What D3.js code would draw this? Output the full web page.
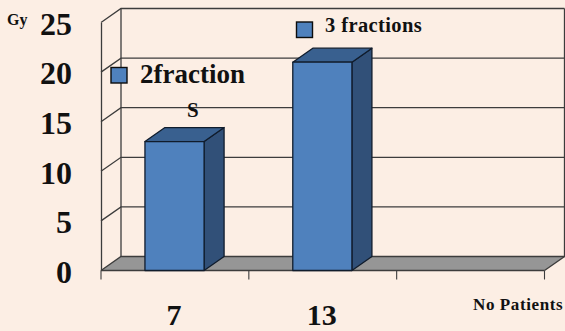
<!DOCTYPE html>
<html>
<head>
<meta charset="utf-8">
<script src="https://cdn.jsdelivr.net/npm/d3@7"></script>
<style>
  html, body { margin: 0; padding: 0; background: #fceee4; }
  svg { display: block; }
  text { font-family: "Liberation Serif", serif; font-weight: bold; fill: #111; }
</style>
</head>
<body>
<svg id="chart" width="565" height="331"></svg>
<script>
// Dose delivered per patient group
const categories = ["7", "13", ""];
const doses = [13, 21];
const doseTicks = [0, 5, 10, 15, 20, 25];
const legendNames = ["2fraction", "3 fractions"];

const width = 565, height = 331;
const depthX = 20, depthY = 14;   // oblique offset of the back plane

const svg = d3.select("#chart");

const y = d3.scaleLinear().domain([0, 25]).range([270.5, 22.5]);
const x = d3.scaleBand().domain(categories).range([101, 544.5]).paddingInner(0).paddingOuter(0);
const barWidth = x.bandwidth() * 0.4;

const frame = "#3c3c3c";
const left = x.range()[0], right = x.range()[1];

// Floor
svg.append("polygon")
  .attr("points", [
    [left, y(0)], [left + depthX, y(0) - depthY],
    [right + depthX, y(0) - depthY], [right, y(0)]
  ].join(" "))
  .attr("fill", "#969696");

// Gridlines on the back plane and side wall
const grid = svg.append("g").attr("fill", "none").attr("stroke", frame).attr("stroke-width", 1.3);
grid.selectAll("path.level")
  .data(doseTicks)
  .join("path")
  .attr("class", "level")
  .attr("d", d => `M${left},${y(d)}L${left + depthX},${y(d) - depthY}L${right + depthX},${y(d) - depthY}`);
grid.append("path").attr("d", `M${left + depthX},${y(25) - depthY}V${y(0) - depthY}`);
grid.append("path").attr("d", `M${right + depthX},${y(25) - depthY}V${y(0) - depthY}L${right},${y(0)}`);

// Value axis: labels only, the wall edge carries the line
const yAxis = svg.append("g")
  .attr("transform", `translate(${left},0)`)
  .call(d3.axisLeft(y).tickValues(doseTicks).tickSize(0).tickPadding(29));
yAxis.select(".domain").attr("stroke", frame).attr("stroke-width", 1.3);
yAxis.selectAll("text")
  .attr("font-size", 32)
  .attr("font-family", "Liberation Serif")
  .attr("font-weight", "bold")
  .attr("fill", "#111")
  .attr("dy", "0.37em");

// Category axis: ticks fall on band edges
const edges = categories.map(c => x(c)).concat(right);
const xAxis = svg.append("g")
  .attr("transform", `translate(0,${y(0)})`);
xAxis.append("line").attr("x1", left).attr("x2", right)
  .attr("stroke", frame).attr("stroke-width", 1.3);
xAxis.selectAll("line.tick")
  .data(edges)
  .join("line")
  .attr("class", "tick")
  .attr("x1", d => d).attr("x2", d => d)
  .attr("y1", 0).attr("y2", 9)
  .attr("stroke", frame).attr("stroke-width", 1.1);
xAxis.selectAll("text")
  .data(categories)
  .join("text")
  .attr("x", d => x(d) + x.bandwidth() / 2 - 1)
  .attr("y", 54.5)
  .attr("text-anchor", "middle")
  .attr("font-size", 30)
  .text(d => d);

// Oblique bars
const bars = svg.append("g")
  .selectAll("g")
  .data(doses)
  .join("g")
  .attr("stroke", "#101c2c")
  .attr("stroke-width", 1.3)
  .attr("stroke-linejoin", "round");
const x0 = (d, i) => x(categories[i]) + (x.bandwidth() - barWidth) / 2 - 0.4;

bars.append("polygon")   // side
  .attr("fill", "#315078")
  .attr("points", (d, i) => {
    const a = x0(d, i) + barWidth;
    return [[a, y(d)], [a + depthX, y(d) - depthY], [a + depthX, y(0) - depthY], [a, y(0)]].join(" ");
  });
bars.append("polygon")   // top
  .attr("fill", "#39608f")
  .attr("points", (d, i) => {
    const a = x0(d, i);
    return [[a, y(d)], [a + depthX, y(d) - depthY], [a + barWidth + depthX, y(d) - depthY], [a + barWidth, y(d)]].join(" ");
  });
bars.append("rect")      // front
  .attr("fill", "#4f81bd")
  .attr("x", x0)
  .attr("y", d => y(d))
  .attr("width", barWidth)
  .attr("height", d => y(0) - y(d));

// Legend keys and names placed over the plot
const legendKeys = [[111, 67.5], [296.5, 22]];
const legendLabels = [
  { x: 140, y: 83, size: 27, spacing: 0 },
  { x: 325, y: 32, size: 20.5, spacing: 0.4 }
];
svg.append("g").selectAll("rect")
  .data(legendKeys)
  .join("rect")
  .attr("x", d => d[0]).attr("y", d => d[1])
  .attr("width", 16).attr("height", 15.5)
  .attr("fill", "#4f81bd")
  .attr("stroke", "#0c0c0c")
  .attr("stroke-width", 1.4);
svg.append("g").selectAll("text")
  .data(legendNames)
  .join("text")
  .attr("x", (d, i) => legendLabels[i].x)
  .attr("y", (d, i) => legendLabels[i].y)
  .attr("font-size", (d, i) => legendLabels[i].size)
  .attr("letter-spacing", (d, i) => legendLabels[i].spacing)
  .text(d => d);

// Loose captions
svg.append("text").attr("x", 187).attr("y", 117).attr("font-size", 21).text("S");
svg.append("text").attr("x", 7).attr("y", 25).attr("font-size", 16).text("Gy");
svg.append("text").attr("x", 473).attr("y", 310).attr("font-size", 17).attr("letter-spacing", 0.6).text("No Patients");
</script>
</body>
</html>
